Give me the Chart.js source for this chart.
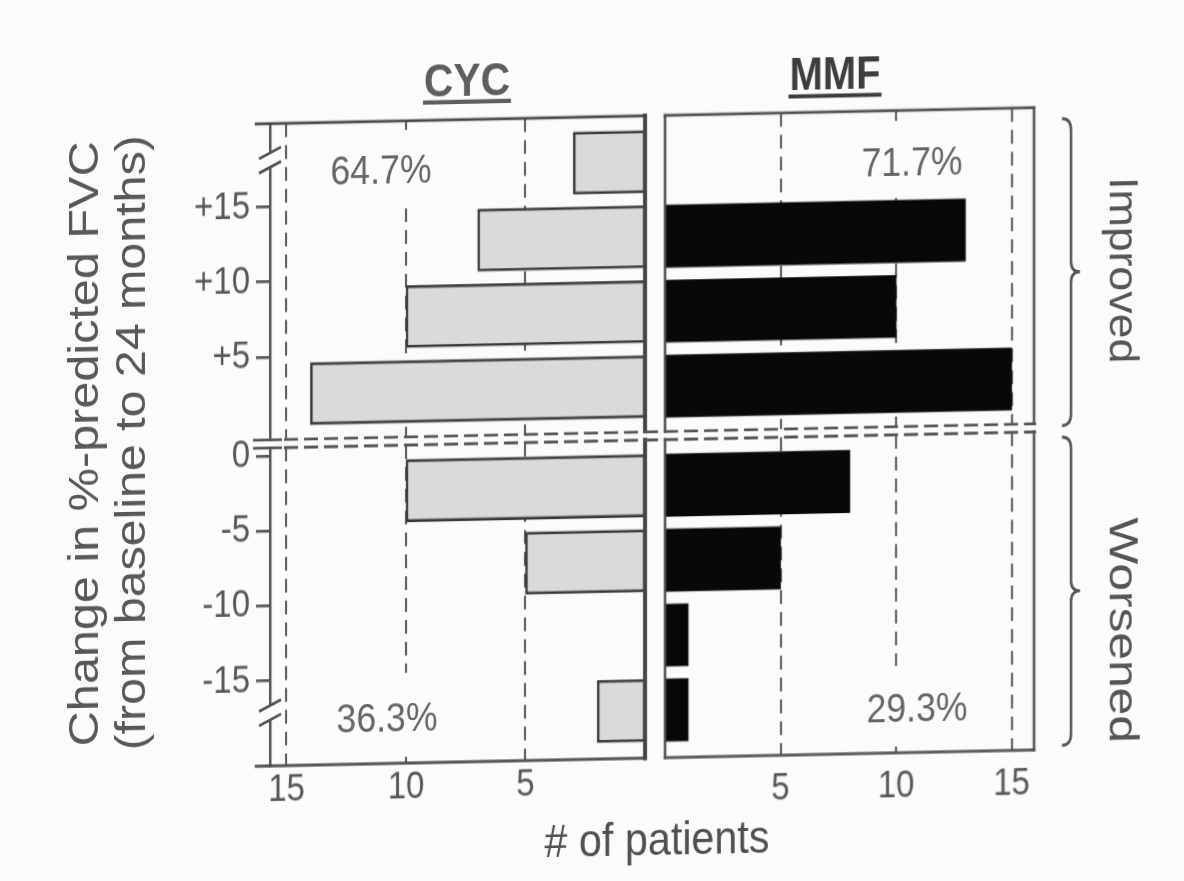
<!DOCTYPE html>
<html>
<head>
<meta charset="utf-8">
<title>FVC change by treatment arm</title>
<script src="https://cdn.jsdelivr.net/npm/chart.js@4.4.1/dist/chart.umd.min.js"></script>
<style>
  html, body { margin: 0; padding: 0; overflow: hidden; background: #fbfbfa; }
  #figure {
    position: relative;
    width: 1184px;
    height: 881px;
    /* the whole figure is drawn slightly tall and tilted */
    transform-origin: 650px 440px;
    transform: skewY(-1.2deg) scaleY(1.15);
  }
  #figure canvas { position: absolute; }
  #overlay { position: absolute; left: 0; top: 0; pointer-events: none; }
</style>
</head>
<body>
<div id="figure">
  <canvas id="cyc-up" width="500" height="294" style="left:150px;top:140px"></canvas>
  <canvas id="cyc-down" width="500" height="360" style="left:150px;top:416px"></canvas>
  <canvas id="mmf-up" width="440" height="294" style="left:650px;top:140px"></canvas>
  <canvas id="mmf-down" width="440" height="360" style="left:650px;top:416px"></canvas>
  <svg id="overlay" width="1184" height="881"></svg>
</div>
<script>
// FVC change bins (bin centres, % predicted) and patient counts per bin
const improvedBins = [17.5, 12.5, 7.5, 2.5];
const worsenedBins = [-2.5, -7.5, -12.5, -17.5];
const cycImproved = [3, 7, 10, 14];
const cycWorsened = [10, 5, 0, 2];
const mmfImproved = [0, 13, 10, 15];
const mmfWorsened = [8, 5, 1, 1];

const improvedTicks = [15, 10, 5];
const worsenedTicks = [0, -5, -10, -15];
const countTicks = [5, 10, 15];

const armNames = ['CYC', 'MMF'];
const cycShares = ['64.7%', '36.3%'];
const mmfShares = ['71.7%', '29.3%'];
const groupNames = ['Improved', 'Worsened'];
const yTitle = ['Change in %-predicted FVC', '(from baseline to 24 months)'];
const xTitle = '# of patients';

const INK = '#555';
const BG = '#fbfbfa';
const FONT = '"Liberation Sans", Arial, sans-serif';

Chart.defaults.font.family = FONT;
Chart.defaults.color = INK;

// box lines round each panel (sides chosen per panel)
const panelFrame = {
  id: 'panelFrame',
  afterDraw(chart, args, o) {
    const { ctx, chartArea: a } = chart;
    const line = (x1, y1, x2, y2, w) => {
      ctx.lineWidth = w || 2.5;
      ctx.beginPath();
      ctx.moveTo(x1, y1);
      ctx.lineTo(x2, y2);
      ctx.stroke();
    };
    ctx.save();
    ctx.strokeStyle = o.color || '#4d4d4d';
    ctx.lineCap = 'square';
    const x0 = a.left - (o.stub || 0);
    if (o.top) line(x0, a.top, a.right, a.top);
    if (o.bottom) line(x0, a.bottom, a.right, a.bottom);
    if (o.left) line(a.left, a.top, a.left, a.bottom);
    if (o.right) line(a.right, a.top, a.right, a.bottom, o.rightWidth);
    ctx.restore();
  }
};

function makePanel(id, cfg) {
  return new Chart(document.getElementById(id), {
    type: 'bar',
    data: {
      datasets: [{
        data: cfg.bins.map((b, i) => ({ x: cfg.counts[i], y: b })),
        backgroundColor: cfg.fill,
        borderColor: cfg.edge,
        borderWidth: cfg.edgeWidth,
        borderSkipped: false,
        barThickness: 54
      }]
    },
    options: {
      indexAxis: 'y',
      responsive: false,
      animation: false,
      devicePixelRatio: 1,
      layout: { padding: cfg.padding },
      plugins: {
        legend: { display: false },
        tooltip: { enabled: false },
        panelFrame: cfg.frame
      },
      scales: {
        x: {
          type: 'linear',
          reverse: cfg.reverse,
          min: 0,
          max: cfg.xMax,
          afterBuildTicks: axis => { axis.ticks = countTicks.map(v => ({ value: v })); },
          afterFit: axis => {
            axis.height = cfg.xHeight;
            axis.paddingLeft = axis.paddingRight = 0;
          },
          grid: { color: INK, lineWidth: 2, drawTicks: false },
          border: { display: false, dash: [12, 7] },
          ticks: { display: cfg.xLabels, padding: cfg.xPad, font: { size: 33 }, color: INK }
        },
        y: {
          type: 'linear',
          display: cfg.yAxis,
          offset: false,
          min: cfg.yMin,
          max: cfg.yMax,
          afterBuildTicks: axis => { axis.ticks = cfg.yTicks.map(v => ({ value: v })); },
          afterFit: axis => {
            // keep the plot area fixed; labels may hang past its ends
            axis.width = cfg.yAxis ? 120 : 0;
            axis.paddingTop = axis.paddingBottom = 0;
          },
          grid: { offset: false, drawOnChartArea: false, tickLength: 14, color: INK, lineWidth: 2.5 },
          border: { display: true, color: INK, width: 2.5 },
          ticks: {
            padding: 6,
            font: { size: 33 },
            color: INK,
            callback: v => (v > 0 ? '+' + v : String(v))
          }
        }
      }
    },
    plugins: [panelFrame]
  });
}

const cycStyle = { fill: '#dadada', edge: '#383838', edgeWidth: 2.5, reverse: true, xMax: 15.69, yAxis: true, xPad: 2 };
const mmfStyle = { fill: '#080808', edge: '#080808', edgeWidth: 0, reverse: false, xMax: 15.97, yAxis: false, xPad: 10 };
const upper = { bins: improvedBins, yTicks: improvedTicks, yMin: -0.53, yMax: 20.56, xLabels: false, xHeight: 0 };
const lower = { bins: worsenedBins, yTicks: worsenedTicks, yMin: -20.67, yMax: 0.54, xLabels: true, xHeight: 59.5 };

makePanel('cyc-up', Object.assign({}, cycStyle, upper, {
  counts: cycImproved,
  padding: { top: 18, bottom: 1, left: 0, right: 5 },
  frame: { top: true, right: true, stub: 14, rightWidth: 4, color: '#444' }
}));
makePanel('cyc-down', Object.assign({}, cycStyle, lower, {
  counts: cycWorsened,
  padding: { top: 24, bottom: 0, left: 0, right: 5 },
  frame: { bottom: true, right: true, stub: 14, rightWidth: 4, color: '#444' }
}));
makePanel('mmf-up', Object.assign({}, mmfStyle, upper, {
  counts: mmfImproved,
  padding: { top: 18, bottom: 1, left: 15, right: 56 },
  frame: { top: true, left: true, right: true }
}));
makePanel('mmf-down', Object.assign({}, mmfStyle, lower, {
  counts: mmfWorsened,
  padding: { top: 24, bottom: 0, left: 15, right: 56 },
  frame: { bottom: true, left: true, right: true }
}));

// titles, labels, braces and axis breaks on top of the panels
const svgNS = 'http://www.w3.org/2000/svg';
const overlay = document.getElementById('overlay');
function add(tag, attrs, text) {
  const el = document.createElementNS(svgNS, tag);
  Object.keys(attrs).forEach(k => el.setAttribute(k, attrs[k]));
  if (text !== undefined) el.textContent = text;
  overlay.appendChild(el);
  return el;
}

// arm headings, underlined
[
  { text: armNames[0], x: 467, y: 137, w: 86, color: '#5e5e5e' },
  { text: armNames[1], x: 835, y: 138.5, w: 91, color: '#3d3d3d' }
].forEach(t => {
  add('text', {
    x: t.x, y: t.y, 'text-anchor': 'middle', 'font-family': FONT, 'font-size': 40,
    'font-weight': 'bold', fill: t.color, textLength: t.w, lengthAdjust: 'spacingAndGlyphs'
  }, t.text);
  add('line', {
    x1: t.x - t.w / 2 - 1, x2: t.x + t.w / 2 + 1, y1: t.y + 5.5, y2: t.y + 5.5,
    stroke: t.color, 'stroke-width': 3.5
  });
});

// share of patients per half, on a blank patch over the grid lines
[
  { text: cycShares[0], x: 381, y: 212, box: [318, 166, 150, 68] },
  { text: mmfShares[0], x: 912, y: 215, box: [852, 167, 123, 65] },
  { text: cycShares[1], x: 387, y: 689, box: [325, 638, 143, 73] },
  { text: mmfShares[1], x: 917, y: 690, box: [855, 641, 123, 70] }
].forEach(s => {
  add('rect', { x: s.box[0], y: s.box[1], width: s.box[2], height: s.box[3], fill: BG });
  add('text', {
    x: s.x, y: s.y, 'text-anchor': 'middle', 'font-family': FONT, 'font-size': 36,
    fill: '#666', textLength: 101, lengthAdjust: 'spacingAndGlyphs'
  }, s.text);
});

// y axis title, two rotated lines
[
  { text: yTitle[0], x: 98, len: 526 },
  { text: yTitle[1], x: 145, len: 535 }
].forEach(t => {
  add('text', {
    x: t.x, y: 433, transform: `rotate(-90 ${t.x} 433)`, 'text-anchor': 'middle',
    'font-family': FONT, 'font-size': 42, fill: '#585858',
    textLength: t.len, lengthAdjust: 'spacingAndGlyphs'
  }, t.text);
});

// x axis title
add('text', {
  x: 657, y: 801, 'text-anchor': 'middle', 'font-family': FONT, 'font-size': 40,
  fill: '#505050', textLength: 225, lengthAdjust: 'spacingAndGlyphs'
}, xTitle);

// group braces and rotated group names
function brace(x, top, bottom) {
  const mid = (top + bottom) / 2;
  return `M ${x - 9} ${top} Q ${x} ${top} ${x} ${top + 10} L ${x} ${mid - 9} ` +
    `Q ${x} ${mid} ${x + 9} ${mid} Q ${x} ${mid} ${x} ${mid + 9} ` +
    `L ${x} ${bottom - 10} Q ${x} ${bottom} ${x - 9} ${bottom}`;
}
[
  { text: groupNames[0], top: 168, bottom: 435, cy: 301, len: 162 },
  { text: groupNames[1], top: 445, bottom: 713, cy: 614, len: 196 }
].forEach(g => {
  add('path', { d: brace(1071, g.top, g.bottom), fill: 'none', stroke: '#555', 'stroke-width': 2.5 });
  add('text', {
    x: 1110, y: g.cy, transform: `rotate(90 1110 ${g.cy})`, 'text-anchor': 'middle',
    'font-family': FONT, 'font-size': 40, fill: '#555',
    textLength: g.len, lengthAdjust: 'spacingAndGlyphs'
  }, g.text);
});

// broken y axis: double slashes near both ends
[183.5, 664].forEach(y0 => {
  add('rect', { x: 262, y: y0, width: 16, height: 12.5, fill: BG });
  [y0, y0 + 12.5].forEach(y => {
    add('line', { x1: 259, y1: y + 5, x2: 281, y2: y - 5, stroke: INK, 'stroke-width': 2.5 });
  });
});

// break between the improved and worsened halves
[433, 440].forEach(y => {
  add('line', { x1: 253, x2: 282, y1: y, y2: y, stroke: INK, 'stroke-width': 2.4 });
  add('line', {
    x1: 284, x2: 1036, y1: y, y2: y, stroke: INK, 'stroke-width': 2.4,
    'stroke-dasharray': '14 6'
  });
});
</script>
</body>
</html>
